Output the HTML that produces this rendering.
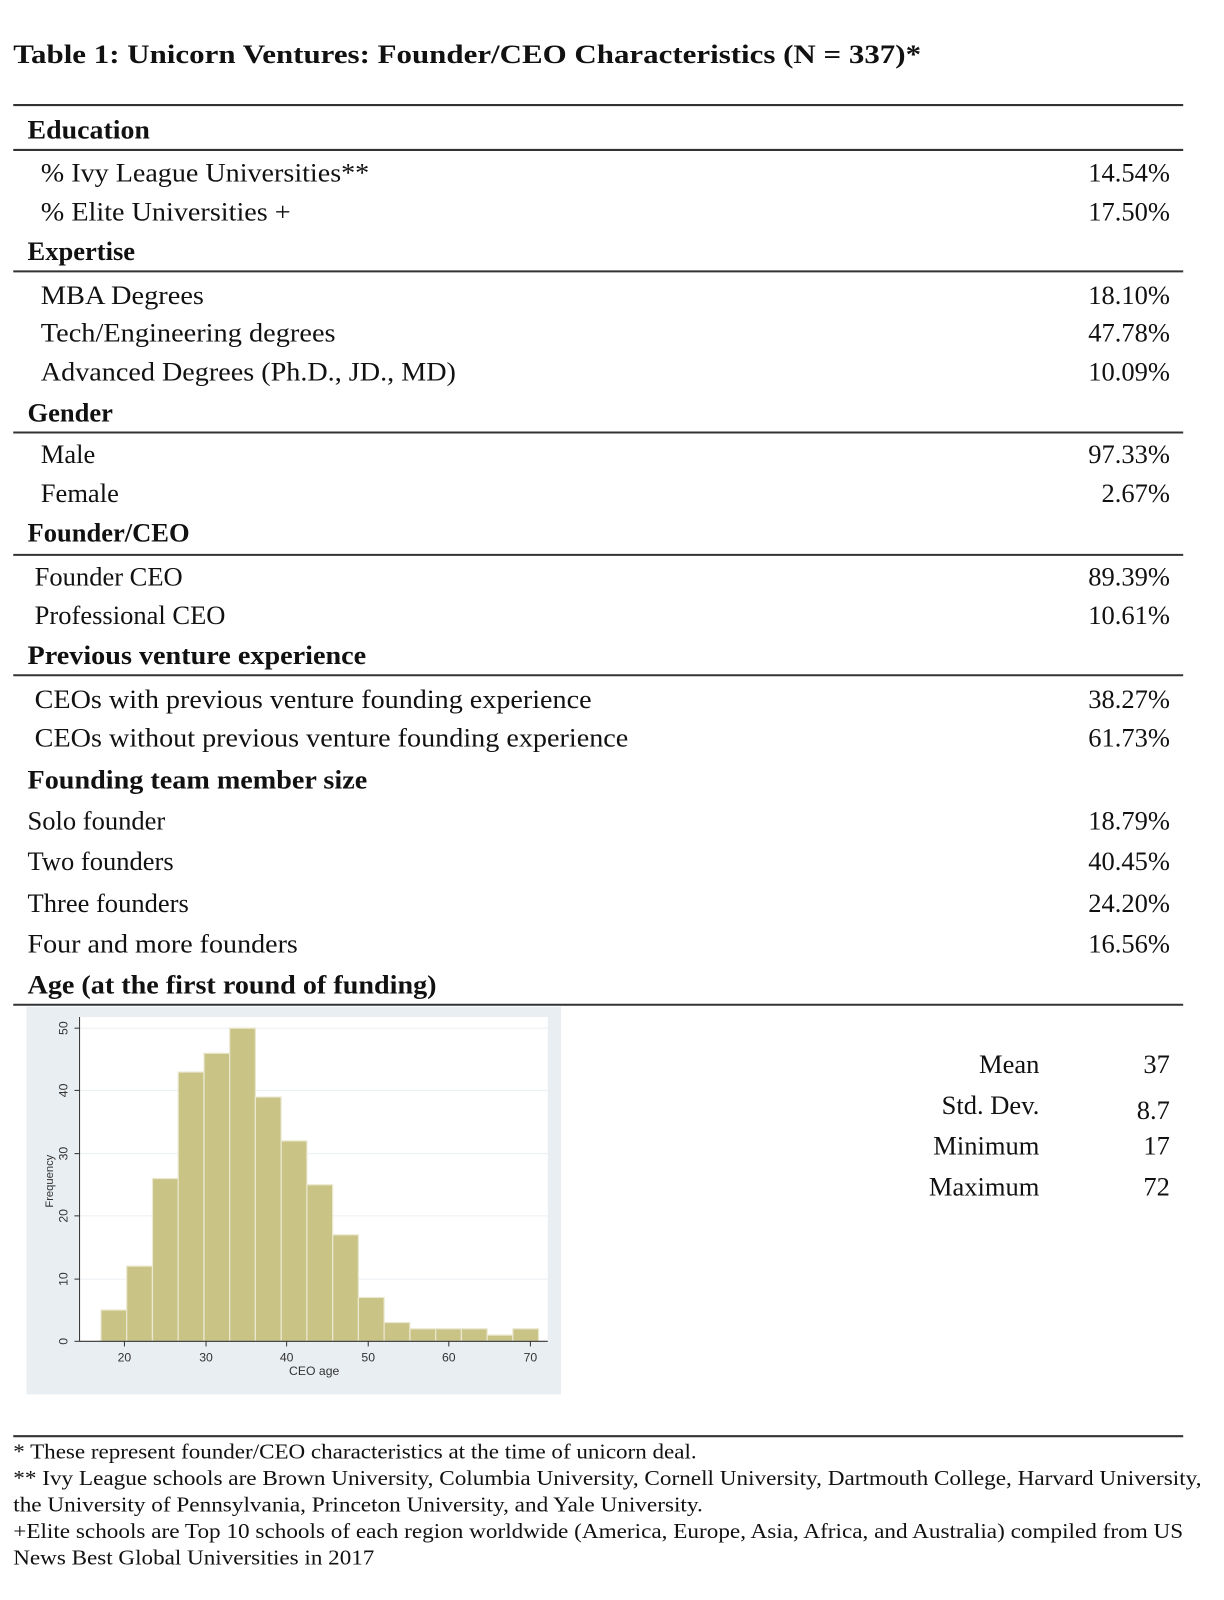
<!DOCTYPE html>
<html><head><meta charset="utf-8"><style>
html,body{margin:0;padding:0;background:#fff;}
svg{display:block;}
.t{font-family:"Liberation Serif",serif;font-size:26px;fill:#111;}
.b{font-weight:bold;}
.f{font-family:"Liberation Serif",serif;font-size:21px;fill:#111;}
.s{font-family:"Liberation Sans",sans-serif;font-size:12px;fill:#333;}
</style></head><body>
<svg width="1224" height="1600" viewBox="0 0 1200 1568.6" xmlns="http://www.w3.org/2000/svg">
<text class="t b" x="13" y="62" font-size="28" textLength="890" lengthAdjust="spacingAndGlyphs">Table 1: Unicorn Ventures: Founder/CEO Characteristics (N = 337)*</text>
<g stroke="#333" stroke-width="2">
<line x1="13" y1="103" x2="1160" y2="103"/>
<line x1="13" y1="147" x2="1160" y2="147"/>
<line x1="13" y1="266" x2="1160" y2="266"/>
<line x1="13" y1="424" x2="1160" y2="424"/>
<line x1="13" y1="544" x2="1160" y2="544"/>
<line x1="13" y1="662" x2="1160" y2="662"/>
<line x1="13" y1="985" x2="1160" y2="985"/>
<line x1="13" y1="1408" x2="1160" y2="1408"/>
</g>
<text class="t b" x="27" y="136" textLength="120" lengthAdjust="spacingAndGlyphs">Education</text>
<text class="t" x="40" y="178" textLength="322" lengthAdjust="spacingAndGlyphs">% Ivy League Universities**</text>
<text class="t" x="40" y="216" textLength="245" lengthAdjust="spacingAndGlyphs">% Elite Universities +</text>
<text class="t b" x="27" y="255">Expertise</text>
<text class="t" x="40" y="298" textLength="160" lengthAdjust="spacingAndGlyphs">MBA Degrees</text>
<text class="t" x="40" y="335" textLength="289" lengthAdjust="spacingAndGlyphs">Tech/Engineering degrees</text>
<text class="t" x="40" y="373" textLength="407" lengthAdjust="spacingAndGlyphs">Advanced Degrees (Ph.D., JD., MD)</text>
<text class="t b" x="27" y="413">Gender</text>
<text class="t" x="40" y="454">Male</text>
<text class="t" x="40" y="492">Female</text>
<text class="t b" x="27" y="531">Founder/CEO</text>
<text class="t" x="34" y="574">Founder CEO</text>
<text class="t" x="34" y="612">Professional CEO</text>
<text class="t b" x="27" y="651" textLength="332" lengthAdjust="spacingAndGlyphs">Previous venture experience</text>
<text class="t" x="34" y="694" textLength="546" lengthAdjust="spacingAndGlyphs">CEOs with previous venture founding experience</text>
<text class="t" x="34" y="732" textLength="582" lengthAdjust="spacingAndGlyphs">CEOs without previous venture founding experience</text>
<text class="t b" x="27" y="773" textLength="333" lengthAdjust="spacingAndGlyphs">Founding team member size</text>
<text class="t" x="27" y="813">Solo founder</text>
<text class="t" x="27" y="853">Two founders</text>
<text class="t" x="27" y="894">Three founders</text>
<text class="t" x="27" y="934" textLength="265" lengthAdjust="spacingAndGlyphs">Four and more founders</text>
<text class="t b" x="27" y="974" textLength="401" lengthAdjust="spacingAndGlyphs">Age (at the first round of funding)</text>
<g class="t" text-anchor="end">
<text x="1147" y="178">14.54%</text>
<text x="1147" y="216">17.50%</text>
<text x="1147" y="298">18.10%</text>
<text x="1147" y="335">47.78%</text>
<text x="1147" y="373">10.09%</text>
<text x="1147" y="454">97.33%</text>
<text x="1147" y="492">2.67%</text>
<text x="1147" y="574">89.39%</text>
<text x="1147" y="612">10.61%</text>
<text x="1147" y="694">38.27%</text>
<text x="1147" y="732">61.73%</text>
<text x="1147" y="813">18.79%</text>
<text x="1147" y="853">40.45%</text>
<text x="1147" y="894">24.20%</text>
<text x="1147" y="934">16.56%</text>
<text x="1019" y="1052">Mean</text>
<text x="1019" y="1092">Std. Dev.</text>
<text x="1019" y="1132">Minimum</text>
<text x="1019" y="1172">Maximum</text>
<text x="1147" y="1052">37</text>
<text x="1147" y="1097">8.7</text>
<text x="1147" y="1132">17</text>
<text x="1147" y="1172">72</text>
</g>
<rect x="26" y="987" width="524" height="380" fill="#e9eef2"/>
<rect x="78" y="997" width="459" height="318" fill="#fff"/>
<g stroke="#eaeff3" stroke-width="1">
<line x1="78" y1="1008" x2="537" y2="1008"/>
<line x1="78" y1="1069" x2="537" y2="1069"/>
<line x1="78" y1="1131" x2="537" y2="1131"/>
<line x1="78" y1="1192" x2="537" y2="1192"/>
<line x1="78" y1="1254" x2="537" y2="1254"/>
</g>
<g fill="#c9c386" stroke="#ebe8d0" stroke-width="1.2">
<rect x="99.0" y="1284.3" width="25.2" height="30.7"/>
<rect x="124.2" y="1241.3" width="25.2" height="73.7"/>
<rect x="149.5" y="1155.4" width="25.2" height="159.6"/>
<rect x="174.7" y="1051.0" width="25.2" height="264.0"/>
<rect x="200.0" y="1032.6" width="25.2" height="282.4"/>
<rect x="225.2" y="1008.0" width="25.2" height="307.0"/>
<rect x="250.4" y="1075.5" width="25.2" height="239.5"/>
<rect x="275.7" y="1118.5" width="25.2" height="196.5"/>
<rect x="300.9" y="1161.5" width="25.2" height="153.5"/>
<rect x="326.2" y="1210.6" width="25.2" height="104.4"/>
<rect x="351.4" y="1272.0" width="25.2" height="43.0"/>
<rect x="376.6" y="1296.6" width="25.2" height="18.4"/>
<rect x="401.9" y="1302.7" width="25.2" height="12.3"/>
<rect x="427.1" y="1302.7" width="25.2" height="12.3"/>
<rect x="452.4" y="1302.7" width="25.2" height="12.3"/>
<rect x="477.6" y="1308.9" width="25.2" height="6.1"/>
<rect x="502.8" y="1302.7" width="25.2" height="12.3"/>
</g>
<g stroke="#333" stroke-width="1">
<line x1="78" y1="997" x2="78" y2="1315"/>
<line x1="78" y1="1315" x2="537" y2="1315"/>
<line x1="73" y1="1008" x2="78" y2="1008"/><line x1="73" y1="1069" x2="78" y2="1069"/><line x1="73" y1="1131" x2="78" y2="1131"/><line x1="73" y1="1192" x2="78" y2="1192"/><line x1="73" y1="1254" x2="78" y2="1254"/><line x1="73" y1="1315" x2="78" y2="1315"/>
<line x1="122" y1="1315" x2="122" y2="1320"/><line x1="202" y1="1315" x2="202" y2="1320"/><line x1="281" y1="1315" x2="281" y2="1320"/><line x1="361" y1="1315" x2="361" y2="1320"/><line x1="440" y1="1315" x2="440" y2="1320"/><line x1="520" y1="1315" x2="520" y2="1320"/>
</g>
<g class="s" text-anchor="middle">
<text x="122" y="1335">20</text><text x="202" y="1335">30</text><text x="281" y="1335">40</text><text x="361" y="1335">50</text><text x="440" y="1335">60</text><text x="520" y="1335">70</text>
<text x="308" y="1348">CEO age</text>
<text transform="translate(66,1008) rotate(-90)">50</text>
<text transform="translate(66,1069) rotate(-90)">40</text>
<text transform="translate(66,1131) rotate(-90)">30</text>
<text transform="translate(66,1192) rotate(-90)">20</text>
<text transform="translate(66,1254) rotate(-90)">10</text>
<text transform="translate(66,1315) rotate(-90)">0</text>
<text transform="translate(52,1158) rotate(-90)" font-size="11">Frequency</text>
</g>
<text class="f" x="13" y="1430" textLength="670" lengthAdjust="spacingAndGlyphs">* These represent founder/CEO characteristics at the time of unicorn deal.</text>
<text class="f" x="13" y="1456" textLength="1165" lengthAdjust="spacingAndGlyphs">** Ivy League schools are Brown University, Columbia University, Cornell University, Dartmouth College, Harvard University,</text>
<text class="f" x="13" y="1482" textLength="676" lengthAdjust="spacingAndGlyphs">the University of Pennsylvania, Princeton University, and Yale University.</text>
<text class="f" x="13" y="1508" textLength="1147" lengthAdjust="spacingAndGlyphs">+Elite schools are Top 10 schools of each region worldwide (America, Europe, Asia, Africa, and Australia) compiled from US</text>
<text class="f" x="13" y="1534" textLength="354" lengthAdjust="spacingAndGlyphs">News Best Global Universities in 2017</text>
</svg>
</body></html>
